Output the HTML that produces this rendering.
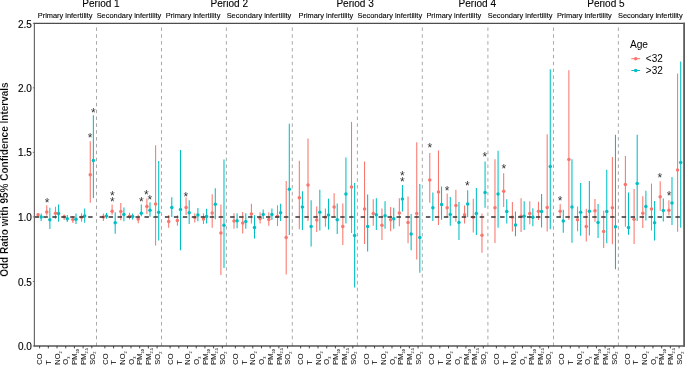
<!DOCTYPE html>
<html lang="en"><head><meta charset="utf-8"><title>Odd Ratio with 95% Confidence Intervals</title>
<style>html,body{margin:0;padding:0;background:#fff}body{width:685px;height:365px;overflow:hidden}svg{display:block}text{font-variant-ligatures:none;font-kerning:normal}</style></head>
<body>
<svg width="685" height="365" viewBox="0 0 685 365" font-family="'Liberation Sans', sans-serif">
<rect width="685" height="365" fill="#fff"/>
<line x1="96.5" y1="23.3" x2="96.5" y2="346.0" stroke="#8c8c8c" stroke-width="0.75" stroke-dasharray="3.5 3.35" stroke-dashoffset="2.7"/>
<line x1="161.5" y1="23.3" x2="161.5" y2="346.0" stroke="#8c8c8c" stroke-width="0.75" stroke-dasharray="3.5 3.35" stroke-dashoffset="2.7"/>
<line x1="226.4" y1="23.3" x2="226.4" y2="346.0" stroke="#8c8c8c" stroke-width="0.75" stroke-dasharray="3.5 3.35" stroke-dashoffset="2.7"/>
<line x1="292.3" y1="23.3" x2="292.3" y2="346.0" stroke="#8c8c8c" stroke-width="0.75" stroke-dasharray="3.5 3.35" stroke-dashoffset="2.7"/>
<line x1="357.4" y1="23.3" x2="357.4" y2="346.0" stroke="#8c8c8c" stroke-width="0.75" stroke-dasharray="3.5 3.35" stroke-dashoffset="2.7"/>
<line x1="422.3" y1="23.3" x2="422.3" y2="346.0" stroke="#8c8c8c" stroke-width="0.75" stroke-dasharray="3.5 3.35" stroke-dashoffset="2.7"/>
<line x1="487.9" y1="23.3" x2="487.9" y2="346.0" stroke="#8c8c8c" stroke-width="0.75" stroke-dasharray="3.5 3.35" stroke-dashoffset="2.7"/>
<line x1="553.5" y1="23.3" x2="553.5" y2="346.0" stroke="#8c8c8c" stroke-width="0.75" stroke-dasharray="3.5 3.35" stroke-dashoffset="2.7"/>
<line x1="618.4" y1="23.3" x2="618.4" y2="346.0" stroke="#8c8c8c" stroke-width="0.75" stroke-dasharray="3.5 3.35" stroke-dashoffset="2.7"/>
<line x1="38.07" y1="212.90" x2="38.07" y2="217.70" stroke="#F8766D" stroke-width="1.05"/>
<circle cx="38.07" cy="214.80" r="1.75" fill="#F8766D"/>
<line x1="41.17" y1="213.60" x2="41.17" y2="220.90" stroke="#00BFC4" stroke-width="1.05"/>
<circle cx="41.17" cy="217.00" r="1.75" fill="#00BFC4"/>
<line x1="46.77" y1="205.20" x2="46.77" y2="215.60" stroke="#F8766D" stroke-width="1.05"/>
<circle cx="46.77" cy="211.90" r="1.75" fill="#F8766D"/>
<line x1="49.87" y1="207.70" x2="49.87" y2="229.10" stroke="#00BFC4" stroke-width="1.05"/>
<circle cx="49.87" cy="219.70" r="1.75" fill="#00BFC4"/>
<line x1="55.47" y1="206.70" x2="55.47" y2="218.70" stroke="#F8766D" stroke-width="1.05"/>
<circle cx="55.47" cy="213.20" r="1.75" fill="#F8766D"/>
<line x1="58.57" y1="204.50" x2="58.57" y2="221.80" stroke="#00BFC4" stroke-width="1.05"/>
<circle cx="58.57" cy="213.40" r="1.75" fill="#00BFC4"/>
<line x1="64.17" y1="214.40" x2="64.17" y2="219.90" stroke="#F8766D" stroke-width="1.05"/>
<circle cx="64.17" cy="216.80" r="1.75" fill="#F8766D"/>
<line x1="67.27" y1="215.10" x2="67.27" y2="222.10" stroke="#00BFC4" stroke-width="1.05"/>
<circle cx="67.27" cy="218.70" r="1.75" fill="#00BFC4"/>
<line x1="72.87" y1="216.00" x2="72.87" y2="223.10" stroke="#F8766D" stroke-width="1.05"/>
<circle cx="72.87" cy="219.40" r="1.75" fill="#F8766D"/>
<line x1="75.97" y1="213.60" x2="75.97" y2="224.00" stroke="#00BFC4" stroke-width="1.05"/>
<circle cx="75.97" cy="219.20" r="1.75" fill="#00BFC4"/>
<line x1="81.57" y1="213.20" x2="81.57" y2="221.80" stroke="#F8766D" stroke-width="1.05"/>
<circle cx="81.57" cy="217.30" r="1.75" fill="#F8766D"/>
<line x1="84.67" y1="208.60" x2="84.67" y2="222.80" stroke="#00BFC4" stroke-width="1.05"/>
<circle cx="84.67" cy="215.90" r="1.75" fill="#00BFC4"/>
<line x1="90.27" y1="141.30" x2="90.27" y2="202.80" stroke="#F8766D" stroke-width="1.05"/>
<circle cx="90.27" cy="174.80" r="1.75" fill="#F8766D"/>
<line x1="93.37" y1="115.30" x2="93.37" y2="198.00" stroke="#00BFC4" stroke-width="1.05"/>
<circle cx="93.37" cy="160.50" r="1.75" fill="#00BFC4"/>
<line x1="103.40" y1="213.60" x2="103.40" y2="220.90" stroke="#F8766D" stroke-width="1.05"/>
<circle cx="103.40" cy="217.00" r="1.75" fill="#F8766D"/>
<line x1="106.50" y1="212.90" x2="106.50" y2="218.70" stroke="#00BFC4" stroke-width="1.05"/>
<circle cx="106.50" cy="215.90" r="1.75" fill="#00BFC4"/>
<line x1="112.10" y1="204.50" x2="112.10" y2="214.80" stroke="#F8766D" stroke-width="1.05"/>
<circle cx="112.10" cy="211.20" r="1.75" fill="#F8766D"/>
<line x1="115.20" y1="212.20" x2="115.20" y2="233.80" stroke="#00BFC4" stroke-width="1.05"/>
<circle cx="115.20" cy="222.80" r="1.75" fill="#00BFC4"/>
<line x1="120.80" y1="203.00" x2="120.80" y2="220.20" stroke="#F8766D" stroke-width="1.05"/>
<circle cx="120.80" cy="211.50" r="1.75" fill="#F8766D"/>
<line x1="123.90" y1="207.40" x2="123.90" y2="221.30" stroke="#00BFC4" stroke-width="1.05"/>
<circle cx="123.90" cy="214.40" r="1.75" fill="#00BFC4"/>
<line x1="129.50" y1="212.70" x2="129.50" y2="219.40" stroke="#F8766D" stroke-width="1.05"/>
<circle cx="129.50" cy="216.30" r="1.75" fill="#F8766D"/>
<line x1="132.60" y1="213.40" x2="132.60" y2="219.40" stroke="#00BFC4" stroke-width="1.05"/>
<circle cx="132.60" cy="216.50" r="1.75" fill="#00BFC4"/>
<line x1="138.20" y1="214.60" x2="138.20" y2="223.30" stroke="#F8766D" stroke-width="1.05"/>
<circle cx="138.20" cy="219.10" r="1.75" fill="#F8766D"/>
<line x1="141.30" y1="204.50" x2="141.30" y2="216.30" stroke="#00BFC4" stroke-width="1.05"/>
<circle cx="141.30" cy="213.20" r="1.75" fill="#00BFC4"/>
<line x1="146.90" y1="198.40" x2="146.90" y2="214.10" stroke="#F8766D" stroke-width="1.05"/>
<circle cx="146.90" cy="206.40" r="1.75" fill="#F8766D"/>
<line x1="150.00" y1="202.30" x2="150.00" y2="216.70" stroke="#00BFC4" stroke-width="1.05"/>
<circle cx="150.00" cy="210.30" r="1.75" fill="#00BFC4"/>
<line x1="155.60" y1="145.20" x2="155.60" y2="245.60" stroke="#F8766D" stroke-width="1.05"/>
<circle cx="155.60" cy="204.00" r="1.75" fill="#F8766D"/>
<line x1="158.70" y1="160.90" x2="158.70" y2="240.60" stroke="#00BFC4" stroke-width="1.05"/>
<circle cx="158.70" cy="212.20" r="1.75" fill="#00BFC4"/>
<line x1="168.69" y1="214.90" x2="168.69" y2="227.70" stroke="#F8766D" stroke-width="1.05"/>
<circle cx="168.69" cy="221.60" r="1.75" fill="#F8766D"/>
<line x1="171.79" y1="197.20" x2="171.79" y2="217.10" stroke="#00BFC4" stroke-width="1.05"/>
<circle cx="171.79" cy="207.40" r="1.75" fill="#00BFC4"/>
<line x1="177.39" y1="215.30" x2="177.39" y2="225.80" stroke="#F8766D" stroke-width="1.05"/>
<circle cx="177.39" cy="220.60" r="1.75" fill="#F8766D"/>
<line x1="180.49" y1="150.00" x2="180.49" y2="250.30" stroke="#00BFC4" stroke-width="1.05"/>
<circle cx="180.49" cy="209.60" r="1.75" fill="#00BFC4"/>
<line x1="186.09" y1="197.50" x2="186.09" y2="214.90" stroke="#F8766D" stroke-width="1.05"/>
<circle cx="186.09" cy="207.60" r="1.75" fill="#F8766D"/>
<line x1="189.19" y1="200.20" x2="189.19" y2="224.00" stroke="#00BFC4" stroke-width="1.05"/>
<circle cx="189.19" cy="212.70" r="1.75" fill="#00BFC4"/>
<line x1="194.79" y1="213.20" x2="194.79" y2="222.60" stroke="#F8766D" stroke-width="1.05"/>
<circle cx="194.79" cy="217.60" r="1.75" fill="#F8766D"/>
<line x1="197.89" y1="208.10" x2="197.89" y2="221.30" stroke="#00BFC4" stroke-width="1.05"/>
<circle cx="197.89" cy="214.90" r="1.75" fill="#00BFC4"/>
<line x1="203.49" y1="213.40" x2="203.49" y2="224.00" stroke="#F8766D" stroke-width="1.05"/>
<circle cx="203.49" cy="218.90" r="1.75" fill="#F8766D"/>
<line x1="206.59" y1="208.80" x2="206.59" y2="223.50" stroke="#00BFC4" stroke-width="1.05"/>
<circle cx="206.59" cy="216.50" r="1.75" fill="#00BFC4"/>
<line x1="212.19" y1="194.30" x2="212.19" y2="227.70" stroke="#F8766D" stroke-width="1.05"/>
<circle cx="212.19" cy="213.10" r="1.75" fill="#F8766D"/>
<line x1="215.29" y1="188.30" x2="215.29" y2="219.20" stroke="#00BFC4" stroke-width="1.05"/>
<circle cx="215.29" cy="204.30" r="1.75" fill="#00BFC4"/>
<line x1="220.89" y1="204.60" x2="220.89" y2="275.00" stroke="#F8766D" stroke-width="1.05"/>
<circle cx="220.89" cy="233.00" r="1.75" fill="#F8766D"/>
<line x1="223.99" y1="159.50" x2="223.99" y2="268.00" stroke="#00BFC4" stroke-width="1.05"/>
<circle cx="223.99" cy="225.30" r="1.75" fill="#00BFC4"/>
<line x1="234.00" y1="213.30" x2="234.00" y2="228.70" stroke="#F8766D" stroke-width="1.05"/>
<circle cx="234.00" cy="221.00" r="1.75" fill="#F8766D"/>
<line x1="237.10" y1="213.30" x2="237.10" y2="228.20" stroke="#00BFC4" stroke-width="1.05"/>
<circle cx="237.10" cy="220.80" r="1.75" fill="#00BFC4"/>
<line x1="242.70" y1="212.10" x2="242.70" y2="233.60" stroke="#F8766D" stroke-width="1.05"/>
<circle cx="242.70" cy="223.10" r="1.75" fill="#F8766D"/>
<line x1="245.80" y1="213.30" x2="245.80" y2="228.70" stroke="#00BFC4" stroke-width="1.05"/>
<circle cx="245.80" cy="221.50" r="1.75" fill="#00BFC4"/>
<line x1="251.40" y1="203.70" x2="251.40" y2="223.40" stroke="#F8766D" stroke-width="1.05"/>
<circle cx="251.40" cy="214.10" r="1.75" fill="#F8766D"/>
<line x1="254.50" y1="215.20" x2="254.50" y2="238.60" stroke="#00BFC4" stroke-width="1.05"/>
<circle cx="254.50" cy="227.60" r="1.75" fill="#00BFC4"/>
<line x1="260.10" y1="212.30" x2="260.10" y2="223.40" stroke="#F8766D" stroke-width="1.05"/>
<circle cx="260.10" cy="218.40" r="1.75" fill="#F8766D"/>
<line x1="263.20" y1="209.50" x2="263.20" y2="219.10" stroke="#00BFC4" stroke-width="1.05"/>
<circle cx="263.20" cy="214.60" r="1.75" fill="#00BFC4"/>
<line x1="268.80" y1="212.30" x2="268.80" y2="225.80" stroke="#F8766D" stroke-width="1.05"/>
<circle cx="268.80" cy="219.60" r="1.75" fill="#F8766D"/>
<line x1="271.90" y1="208.50" x2="271.90" y2="220.00" stroke="#00BFC4" stroke-width="1.05"/>
<circle cx="271.90" cy="214.60" r="1.75" fill="#00BFC4"/>
<line x1="277.50" y1="205.30" x2="277.50" y2="226.10" stroke="#F8766D" stroke-width="1.05"/>
<circle cx="277.50" cy="216.20" r="1.75" fill="#F8766D"/>
<line x1="280.60" y1="203.70" x2="280.60" y2="221.00" stroke="#00BFC4" stroke-width="1.05"/>
<circle cx="280.60" cy="212.80" r="1.75" fill="#00BFC4"/>
<line x1="286.20" y1="181.10" x2="286.20" y2="274.60" stroke="#F8766D" stroke-width="1.05"/>
<circle cx="286.20" cy="237.40" r="1.75" fill="#F8766D"/>
<line x1="289.30" y1="123.80" x2="289.30" y2="235.00" stroke="#00BFC4" stroke-width="1.05"/>
<circle cx="289.30" cy="189.20" r="1.75" fill="#00BFC4"/>
<line x1="299.32" y1="160.80" x2="299.32" y2="229.30" stroke="#F8766D" stroke-width="1.05"/>
<circle cx="299.32" cy="197.80" r="1.75" fill="#F8766D"/>
<line x1="302.42" y1="191.30" x2="302.42" y2="230.00" stroke="#00BFC4" stroke-width="1.05"/>
<circle cx="302.42" cy="206.90" r="1.75" fill="#00BFC4"/>
<line x1="308.02" y1="138.40" x2="308.02" y2="221.10" stroke="#F8766D" stroke-width="1.05"/>
<circle cx="308.02" cy="185.00" r="1.75" fill="#F8766D"/>
<line x1="311.12" y1="200.20" x2="311.12" y2="246.50" stroke="#00BFC4" stroke-width="1.05"/>
<circle cx="311.12" cy="226.40" r="1.75" fill="#00BFC4"/>
<line x1="316.72" y1="206.50" x2="316.72" y2="231.90" stroke="#F8766D" stroke-width="1.05"/>
<circle cx="316.72" cy="220.10" r="1.75" fill="#F8766D"/>
<line x1="319.82" y1="189.80" x2="319.82" y2="230.60" stroke="#00BFC4" stroke-width="1.05"/>
<circle cx="319.82" cy="212.20" r="1.75" fill="#00BFC4"/>
<line x1="325.42" y1="208.40" x2="325.42" y2="226.80" stroke="#F8766D" stroke-width="1.05"/>
<circle cx="325.42" cy="217.30" r="1.75" fill="#F8766D"/>
<line x1="328.52" y1="198.70" x2="328.52" y2="229.60" stroke="#00BFC4" stroke-width="1.05"/>
<circle cx="328.52" cy="215.00" r="1.75" fill="#00BFC4"/>
<line x1="334.12" y1="193.20" x2="334.12" y2="217.30" stroke="#F8766D" stroke-width="1.05"/>
<circle cx="334.12" cy="206.90" r="1.75" fill="#F8766D"/>
<line x1="337.22" y1="203.40" x2="337.22" y2="234.00" stroke="#00BFC4" stroke-width="1.05"/>
<circle cx="337.22" cy="219.80" r="1.75" fill="#00BFC4"/>
<line x1="342.82" y1="203.40" x2="342.82" y2="245.00" stroke="#F8766D" stroke-width="1.05"/>
<circle cx="342.82" cy="226.40" r="1.75" fill="#F8766D"/>
<line x1="345.92" y1="157.40" x2="345.92" y2="223.60" stroke="#00BFC4" stroke-width="1.05"/>
<circle cx="345.92" cy="194.00" r="1.75" fill="#00BFC4"/>
<line x1="351.52" y1="121.90" x2="351.52" y2="233.00" stroke="#F8766D" stroke-width="1.05"/>
<circle cx="351.52" cy="186.90" r="1.75" fill="#F8766D"/>
<line x1="354.62" y1="183.00" x2="354.62" y2="287.50" stroke="#00BFC4" stroke-width="1.05"/>
<circle cx="354.62" cy="235.50" r="1.75" fill="#00BFC4"/>
<line x1="364.54" y1="161.40" x2="364.54" y2="243.90" stroke="#F8766D" stroke-width="1.05"/>
<circle cx="364.54" cy="209.10" r="1.75" fill="#F8766D"/>
<line x1="367.64" y1="194.50" x2="367.64" y2="251.50" stroke="#00BFC4" stroke-width="1.05"/>
<circle cx="367.64" cy="226.40" r="1.75" fill="#00BFC4"/>
<line x1="373.24" y1="199.30" x2="373.24" y2="225.80" stroke="#F8766D" stroke-width="1.05"/>
<circle cx="373.24" cy="213.50" r="1.75" fill="#F8766D"/>
<line x1="376.34" y1="198.30" x2="376.34" y2="230.00" stroke="#00BFC4" stroke-width="1.05"/>
<circle cx="376.34" cy="214.80" r="1.75" fill="#00BFC4"/>
<line x1="381.94" y1="208.40" x2="381.94" y2="240.00" stroke="#F8766D" stroke-width="1.05"/>
<circle cx="381.94" cy="225.30" r="1.75" fill="#F8766D"/>
<line x1="385.04" y1="201.20" x2="385.04" y2="228.70" stroke="#00BFC4" stroke-width="1.05"/>
<circle cx="385.04" cy="215.80" r="1.75" fill="#00BFC4"/>
<line x1="390.64" y1="206.90" x2="390.64" y2="231.20" stroke="#F8766D" stroke-width="1.05"/>
<circle cx="390.64" cy="219.80" r="1.75" fill="#F8766D"/>
<line x1="393.74" y1="207.80" x2="393.74" y2="228.70" stroke="#00BFC4" stroke-width="1.05"/>
<circle cx="393.74" cy="218.80" r="1.75" fill="#00BFC4"/>
<line x1="399.34" y1="198.30" x2="399.34" y2="226.20" stroke="#F8766D" stroke-width="1.05"/>
<circle cx="399.34" cy="213.10" r="1.75" fill="#F8766D"/>
<line x1="402.44" y1="185.00" x2="402.44" y2="211.60" stroke="#00BFC4" stroke-width="1.05"/>
<circle cx="402.44" cy="198.90" r="1.75" fill="#00BFC4"/>
<line x1="408.04" y1="196.40" x2="408.04" y2="243.30" stroke="#F8766D" stroke-width="1.05"/>
<circle cx="408.04" cy="222.40" r="1.75" fill="#F8766D"/>
<line x1="411.14" y1="214.10" x2="411.14" y2="250.30" stroke="#00BFC4" stroke-width="1.05"/>
<circle cx="411.14" cy="233.90" r="1.75" fill="#00BFC4"/>
<line x1="416.74" y1="142.20" x2="416.74" y2="259.50" stroke="#F8766D" stroke-width="1.05"/>
<circle cx="416.74" cy="213.50" r="1.75" fill="#F8766D"/>
<line x1="419.84" y1="184.10" x2="419.84" y2="272.70" stroke="#00BFC4" stroke-width="1.05"/>
<circle cx="419.84" cy="237.40" r="1.75" fill="#00BFC4"/>
<line x1="429.77" y1="152.90" x2="429.77" y2="202.70" stroke="#F8766D" stroke-width="1.05"/>
<circle cx="429.77" cy="180.00" r="1.75" fill="#F8766D"/>
<line x1="432.87" y1="192.60" x2="432.87" y2="221.10" stroke="#00BFC4" stroke-width="1.05"/>
<circle cx="432.87" cy="207.80" r="1.75" fill="#00BFC4"/>
<line x1="438.47" y1="150.40" x2="438.47" y2="224.90" stroke="#F8766D" stroke-width="1.05"/>
<circle cx="438.47" cy="192.10" r="1.75" fill="#F8766D"/>
<line x1="441.57" y1="186.40" x2="441.57" y2="219.80" stroke="#00BFC4" stroke-width="1.05"/>
<circle cx="441.57" cy="204.40" r="1.75" fill="#00BFC4"/>
<line x1="447.17" y1="193.60" x2="447.17" y2="217.30" stroke="#F8766D" stroke-width="1.05"/>
<circle cx="447.17" cy="207.80" r="1.75" fill="#F8766D"/>
<line x1="450.27" y1="197.00" x2="450.27" y2="225.80" stroke="#00BFC4" stroke-width="1.05"/>
<circle cx="450.27" cy="214.50" r="1.75" fill="#00BFC4"/>
<line x1="455.87" y1="189.80" x2="455.87" y2="221.70" stroke="#F8766D" stroke-width="1.05"/>
<circle cx="455.87" cy="205.50" r="1.75" fill="#F8766D"/>
<line x1="458.97" y1="202.10" x2="458.97" y2="240.10" stroke="#00BFC4" stroke-width="1.05"/>
<circle cx="458.97" cy="222.60" r="1.75" fill="#00BFC4"/>
<line x1="464.57" y1="205.50" x2="464.57" y2="223.60" stroke="#F8766D" stroke-width="1.05"/>
<circle cx="464.57" cy="214.80" r="1.75" fill="#F8766D"/>
<line x1="467.67" y1="190.20" x2="467.67" y2="217.30" stroke="#00BFC4" stroke-width="1.05"/>
<circle cx="467.67" cy="204.00" r="1.75" fill="#00BFC4"/>
<line x1="473.27" y1="198.70" x2="473.27" y2="232.50" stroke="#F8766D" stroke-width="1.05"/>
<circle cx="473.27" cy="217.30" r="1.75" fill="#F8766D"/>
<line x1="476.37" y1="187.90" x2="476.37" y2="235.10" stroke="#00BFC4" stroke-width="1.05"/>
<circle cx="476.37" cy="213.50" r="1.75" fill="#00BFC4"/>
<line x1="481.97" y1="213.50" x2="481.97" y2="252.80" stroke="#F8766D" stroke-width="1.05"/>
<circle cx="481.97" cy="235.30" r="1.75" fill="#F8766D"/>
<line x1="485.07" y1="161.40" x2="485.07" y2="207.80" stroke="#00BFC4" stroke-width="1.05"/>
<circle cx="485.07" cy="192.60" r="1.75" fill="#00BFC4"/>
<line x1="494.97" y1="159.30" x2="494.97" y2="243.10" stroke="#F8766D" stroke-width="1.05"/>
<circle cx="494.97" cy="207.80" r="1.75" fill="#F8766D"/>
<line x1="498.07" y1="150.80" x2="498.07" y2="227.70" stroke="#00BFC4" stroke-width="1.05"/>
<circle cx="498.07" cy="194.00" r="1.75" fill="#00BFC4"/>
<line x1="503.67" y1="173.20" x2="503.67" y2="206.90" stroke="#F8766D" stroke-width="1.05"/>
<circle cx="503.67" cy="191.30" r="1.75" fill="#F8766D"/>
<line x1="506.77" y1="199.30" x2="506.77" y2="223.60" stroke="#00BFC4" stroke-width="1.05"/>
<circle cx="506.77" cy="211.60" r="1.75" fill="#00BFC4"/>
<line x1="512.37" y1="202.10" x2="512.37" y2="231.50" stroke="#F8766D" stroke-width="1.05"/>
<circle cx="512.37" cy="217.30" r="1.75" fill="#F8766D"/>
<line x1="515.47" y1="211.60" x2="515.47" y2="236.20" stroke="#00BFC4" stroke-width="1.05"/>
<circle cx="515.47" cy="224.90" r="1.75" fill="#00BFC4"/>
<line x1="521.07" y1="198.30" x2="521.07" y2="231.90" stroke="#F8766D" stroke-width="1.05"/>
<circle cx="521.07" cy="216.30" r="1.75" fill="#F8766D"/>
<line x1="524.17" y1="201.20" x2="524.17" y2="230.00" stroke="#00BFC4" stroke-width="1.05"/>
<circle cx="524.17" cy="216.30" r="1.75" fill="#00BFC4"/>
<line x1="529.77" y1="201.20" x2="529.77" y2="224.30" stroke="#F8766D" stroke-width="1.05"/>
<circle cx="529.77" cy="213.50" r="1.75" fill="#F8766D"/>
<line x1="532.87" y1="208.20" x2="532.87" y2="226.20" stroke="#00BFC4" stroke-width="1.05"/>
<circle cx="532.87" cy="217.30" r="1.75" fill="#00BFC4"/>
<line x1="538.47" y1="201.70" x2="538.47" y2="220.10" stroke="#F8766D" stroke-width="1.05"/>
<circle cx="538.47" cy="211.20" r="1.75" fill="#F8766D"/>
<line x1="541.57" y1="194.00" x2="541.57" y2="227.40" stroke="#00BFC4" stroke-width="1.05"/>
<circle cx="541.57" cy="211.60" r="1.75" fill="#00BFC4"/>
<line x1="547.17" y1="134.30" x2="547.17" y2="231.50" stroke="#F8766D" stroke-width="1.05"/>
<circle cx="547.17" cy="207.40" r="1.75" fill="#F8766D"/>
<line x1="550.27" y1="69.20" x2="550.27" y2="229.30" stroke="#00BFC4" stroke-width="1.05"/>
<circle cx="550.27" cy="166.50" r="1.75" fill="#00BFC4"/>
<line x1="560.17" y1="204.00" x2="560.17" y2="217.30" stroke="#F8766D" stroke-width="1.05"/>
<circle cx="560.17" cy="211.20" r="1.75" fill="#F8766D"/>
<line x1="563.27" y1="209.70" x2="563.27" y2="232.70" stroke="#00BFC4" stroke-width="1.05"/>
<circle cx="563.27" cy="221.10" r="1.75" fill="#00BFC4"/>
<line x1="568.87" y1="70.30" x2="568.87" y2="219.80" stroke="#F8766D" stroke-width="1.05"/>
<circle cx="568.87" cy="159.50" r="1.75" fill="#F8766D"/>
<line x1="571.97" y1="159.30" x2="571.97" y2="242.80" stroke="#00BFC4" stroke-width="1.05"/>
<circle cx="571.97" cy="206.90" r="1.75" fill="#00BFC4"/>
<line x1="577.57" y1="206.50" x2="577.57" y2="231.30" stroke="#F8766D" stroke-width="1.05"/>
<circle cx="577.57" cy="219.80" r="1.75" fill="#F8766D"/>
<line x1="580.67" y1="182.90" x2="580.67" y2="235.70" stroke="#00BFC4" stroke-width="1.05"/>
<circle cx="580.67" cy="212.20" r="1.75" fill="#00BFC4"/>
<line x1="586.27" y1="208.80" x2="586.27" y2="241.40" stroke="#F8766D" stroke-width="1.05"/>
<circle cx="586.27" cy="226.40" r="1.75" fill="#F8766D"/>
<line x1="589.37" y1="181.00" x2="589.37" y2="235.50" stroke="#00BFC4" stroke-width="1.05"/>
<circle cx="589.37" cy="211.20" r="1.75" fill="#00BFC4"/>
<line x1="594.97" y1="198.90" x2="594.97" y2="221.70" stroke="#F8766D" stroke-width="1.05"/>
<circle cx="594.97" cy="210.70" r="1.75" fill="#F8766D"/>
<line x1="598.07" y1="204.00" x2="598.07" y2="238.10" stroke="#00BFC4" stroke-width="1.05"/>
<circle cx="598.07" cy="222.40" r="1.75" fill="#00BFC4"/>
<line x1="603.67" y1="210.70" x2="603.67" y2="248.00" stroke="#F8766D" stroke-width="1.05"/>
<circle cx="603.67" cy="231.40" r="1.75" fill="#F8766D"/>
<line x1="606.77" y1="169.80" x2="606.77" y2="243.30" stroke="#00BFC4" stroke-width="1.05"/>
<circle cx="606.77" cy="211.60" r="1.75" fill="#00BFC4"/>
<line x1="612.37" y1="157.00" x2="612.37" y2="244.30" stroke="#F8766D" stroke-width="1.05"/>
<circle cx="612.37" cy="207.80" r="1.75" fill="#F8766D"/>
<line x1="615.47" y1="134.70" x2="615.47" y2="269.30" stroke="#00BFC4" stroke-width="1.05"/>
<circle cx="615.47" cy="226.80" r="1.75" fill="#00BFC4"/>
<line x1="625.39" y1="156.10" x2="625.39" y2="226.70" stroke="#F8766D" stroke-width="1.05"/>
<circle cx="625.39" cy="184.60" r="1.75" fill="#F8766D"/>
<line x1="628.49" y1="192.50" x2="628.49" y2="234.80" stroke="#00BFC4" stroke-width="1.05"/>
<circle cx="628.49" cy="227.60" r="1.75" fill="#00BFC4"/>
<line x1="634.09" y1="189.10" x2="634.09" y2="243.90" stroke="#F8766D" stroke-width="1.05"/>
<circle cx="634.09" cy="219.30" r="1.75" fill="#F8766D"/>
<line x1="637.19" y1="134.70" x2="637.19" y2="220.90" stroke="#00BFC4" stroke-width="1.05"/>
<circle cx="637.19" cy="183.60" r="1.75" fill="#00BFC4"/>
<line x1="642.79" y1="196.30" x2="642.79" y2="228.00" stroke="#F8766D" stroke-width="1.05"/>
<circle cx="642.79" cy="213.30" r="1.75" fill="#F8766D"/>
<line x1="645.89" y1="190.80" x2="645.89" y2="220.40" stroke="#00BFC4" stroke-width="1.05"/>
<circle cx="645.89" cy="206.60" r="1.75" fill="#00BFC4"/>
<line x1="651.49" y1="183.60" x2="651.49" y2="230.60" stroke="#F8766D" stroke-width="1.05"/>
<circle cx="651.49" cy="209.10" r="1.75" fill="#F8766D"/>
<line x1="654.59" y1="201.10" x2="654.59" y2="240.60" stroke="#00BFC4" stroke-width="1.05"/>
<circle cx="654.59" cy="222.70" r="1.75" fill="#00BFC4"/>
<line x1="660.19" y1="181.30" x2="660.19" y2="210.70" stroke="#F8766D" stroke-width="1.05"/>
<circle cx="660.19" cy="196.80" r="1.75" fill="#F8766D"/>
<line x1="663.29" y1="198.50" x2="663.29" y2="221.60" stroke="#00BFC4" stroke-width="1.05"/>
<circle cx="663.29" cy="210.50" r="1.75" fill="#00BFC4"/>
<line x1="668.89" y1="200.30" x2="668.89" y2="215.20" stroke="#F8766D" stroke-width="1.05"/>
<circle cx="668.89" cy="210.20" r="1.75" fill="#F8766D"/>
<line x1="671.99" y1="177.10" x2="671.99" y2="224.90" stroke="#00BFC4" stroke-width="1.05"/>
<circle cx="671.99" cy="202.90" r="1.75" fill="#00BFC4"/>
<line x1="677.59" y1="73.60" x2="677.59" y2="231.80" stroke="#F8766D" stroke-width="1.05"/>
<circle cx="677.59" cy="169.90" r="1.75" fill="#F8766D"/>
<line x1="680.69" y1="61.50" x2="680.69" y2="227.80" stroke="#00BFC4" stroke-width="1.05"/>
<circle cx="680.69" cy="162.40" r="1.75" fill="#00BFC4"/>
<line x1="34.40" y1="217.1" x2="97.04" y2="217.1" stroke="#333" stroke-width="1.5" stroke-dasharray="4.48 4.48"/>
<line x1="99.65" y1="217.1" x2="162.29" y2="217.1" stroke="#333" stroke-width="1.5" stroke-dasharray="4.48 4.48"/>
<line x1="164.90" y1="217.1" x2="227.54" y2="217.1" stroke="#333" stroke-width="1.5" stroke-dasharray="4.48 4.48"/>
<line x1="230.15" y1="217.1" x2="292.79" y2="217.1" stroke="#333" stroke-width="1.5" stroke-dasharray="4.48 4.48"/>
<line x1="295.40" y1="217.1" x2="358.04" y2="217.1" stroke="#333" stroke-width="1.5" stroke-dasharray="4.48 4.48"/>
<line x1="360.65" y1="217.1" x2="423.29" y2="217.1" stroke="#333" stroke-width="1.5" stroke-dasharray="4.48 4.48"/>
<line x1="425.90" y1="217.1" x2="488.54" y2="217.1" stroke="#333" stroke-width="1.5" stroke-dasharray="4.48 4.48"/>
<line x1="491.15" y1="217.1" x2="553.79" y2="217.1" stroke="#333" stroke-width="1.5" stroke-dasharray="4.48 4.48"/>
<line x1="556.40" y1="217.1" x2="619.04" y2="217.1" stroke="#333" stroke-width="1.5" stroke-dasharray="4.48 4.48"/>
<line x1="621.65" y1="217.1" x2="684.10" y2="217.1" stroke="#333" stroke-width="1.5" stroke-dasharray="4.48 4.48"/>
<line x1="34.4" y1="23.3" x2="34.4" y2="346.0" stroke="#6a6a6a" stroke-width="1.2"/>
<line x1="33.8" y1="23.3" x2="685" y2="23.3" stroke="#4d4d4d" stroke-width="1.25"/>
<line x1="33.8" y1="346.1" x2="685" y2="346.1" stroke="#555" stroke-width="1.5"/>
<rect x="683.2" y="22.75" width="1.8" height="323.8" fill="#5c5c5c"/>
<line x1="32.8" y1="346.00" x2="34.4" y2="346.00" stroke="#4d4d4d" stroke-width="0.7"/>
<text x="31.9" y="350" font-size="10" text-anchor="end" fill="#000" stroke="#000" stroke-width="0.12">0.0</text>
<line x1="32.8" y1="281.46" x2="34.4" y2="281.46" stroke="#4d4d4d" stroke-width="0.7"/>
<text x="31.9" y="286" font-size="10" text-anchor="end" fill="#000" stroke="#000" stroke-width="0.12">0.5</text>
<line x1="32.8" y1="216.92" x2="34.4" y2="216.92" stroke="#4d4d4d" stroke-width="0.7"/>
<text x="31.9" y="221" font-size="10" text-anchor="end" fill="#000" stroke="#000" stroke-width="0.12">1.0</text>
<line x1="32.8" y1="152.38" x2="34.4" y2="152.38" stroke="#4d4d4d" stroke-width="0.7"/>
<text x="31.9" y="156" font-size="10" text-anchor="end" fill="#000" stroke="#000" stroke-width="0.12">1.5</text>
<line x1="32.8" y1="87.84" x2="34.4" y2="87.84" stroke="#4d4d4d" stroke-width="0.7"/>
<text x="31.9" y="92" font-size="10" text-anchor="end" fill="#000" stroke="#000" stroke-width="0.12">2.0</text>
<line x1="32.8" y1="23.30" x2="34.4" y2="23.30" stroke="#4d4d4d" stroke-width="0.7"/>
<text x="31.9" y="28" font-size="10" text-anchor="end" fill="#000" stroke="#000" stroke-width="0.12">2.5</text>
<line x1="39.62" y1="346.0" x2="39.62" y2="348.4" stroke="#333" stroke-width="0.9"/>
<text transform="translate(42.32 364.7) rotate(-90)" font-size="7.5" fill="#111" stroke="#111" stroke-width="0.05">CO</text>
<line x1="48.32" y1="346.0" x2="48.32" y2="348.4" stroke="#333" stroke-width="0.9"/>
<text transform="translate(51.02 364.7) rotate(-90)" font-size="7.5" fill="#111" stroke="#111" stroke-width="0.05">T</text>
<line x1="57.02" y1="346.0" x2="57.02" y2="348.4" stroke="#333" stroke-width="0.9"/>
<text transform="translate(59.72 364.7) rotate(-90)" font-size="7.5" fill="#111" stroke="#111" stroke-width="0.05">NO<tspan font-size="3.8" dy="1.9">2</tspan></text>
<line x1="65.72" y1="346.0" x2="65.72" y2="348.4" stroke="#333" stroke-width="0.9"/>
<text transform="translate(68.42 364.7) rotate(-90)" font-size="7.5" fill="#111" stroke="#111" stroke-width="0.05">O<tspan font-size="3.8" dy="1.9">3</tspan></text>
<line x1="74.42" y1="346.0" x2="74.42" y2="348.4" stroke="#333" stroke-width="0.9"/>
<text transform="translate(77.12 364.7) rotate(-90)" font-size="7.5" fill="#111" stroke="#111" stroke-width="0.05">PM<tspan font-size="3.8" dy="1.9">10</tspan></text>
<line x1="83.12" y1="346.0" x2="83.12" y2="348.4" stroke="#333" stroke-width="0.9"/>
<text transform="translate(85.82 364.7) rotate(-90)" font-size="7.5" fill="#111" stroke="#111" stroke-width="0.05">PM<tspan font-size="3.8" dy="1.9">2.5</tspan></text>
<line x1="91.82" y1="346.0" x2="91.82" y2="348.4" stroke="#333" stroke-width="0.9"/>
<text transform="translate(94.52 364.7) rotate(-90)" font-size="7.5" fill="#111" stroke="#111" stroke-width="0.05">SO<tspan font-size="3.8" dy="1.9">2</tspan></text>
<line x1="104.87" y1="346.0" x2="104.87" y2="348.4" stroke="#333" stroke-width="0.9"/>
<text transform="translate(107.57 364.7) rotate(-90)" font-size="7.5" fill="#111" stroke="#111" stroke-width="0.05">CO</text>
<line x1="113.57" y1="346.0" x2="113.57" y2="348.4" stroke="#333" stroke-width="0.9"/>
<text transform="translate(116.27 364.7) rotate(-90)" font-size="7.5" fill="#111" stroke="#111" stroke-width="0.05">T</text>
<line x1="122.27" y1="346.0" x2="122.27" y2="348.4" stroke="#333" stroke-width="0.9"/>
<text transform="translate(124.97 364.7) rotate(-90)" font-size="7.5" fill="#111" stroke="#111" stroke-width="0.05">NO<tspan font-size="3.8" dy="1.9">2</tspan></text>
<line x1="130.97" y1="346.0" x2="130.97" y2="348.4" stroke="#333" stroke-width="0.9"/>
<text transform="translate(133.67 364.7) rotate(-90)" font-size="7.5" fill="#111" stroke="#111" stroke-width="0.05">O<tspan font-size="3.8" dy="1.9">3</tspan></text>
<line x1="139.67" y1="346.0" x2="139.67" y2="348.4" stroke="#333" stroke-width="0.9"/>
<text transform="translate(142.37 364.7) rotate(-90)" font-size="7.5" fill="#111" stroke="#111" stroke-width="0.05">PM<tspan font-size="3.8" dy="1.9">10</tspan></text>
<line x1="148.37" y1="346.0" x2="148.37" y2="348.4" stroke="#333" stroke-width="0.9"/>
<text transform="translate(151.07 364.7) rotate(-90)" font-size="7.5" fill="#111" stroke="#111" stroke-width="0.05">PM<tspan font-size="3.8" dy="1.9">2.5</tspan></text>
<line x1="157.07" y1="346.0" x2="157.07" y2="348.4" stroke="#333" stroke-width="0.9"/>
<text transform="translate(159.77 364.7) rotate(-90)" font-size="7.5" fill="#111" stroke="#111" stroke-width="0.05">SO<tspan font-size="3.8" dy="1.9">2</tspan></text>
<line x1="170.12" y1="346.0" x2="170.12" y2="348.4" stroke="#333" stroke-width="0.9"/>
<text transform="translate(172.82 364.7) rotate(-90)" font-size="7.5" fill="#111" stroke="#111" stroke-width="0.05">CO</text>
<line x1="178.82" y1="346.0" x2="178.82" y2="348.4" stroke="#333" stroke-width="0.9"/>
<text transform="translate(181.52 364.7) rotate(-90)" font-size="7.5" fill="#111" stroke="#111" stroke-width="0.05">T</text>
<line x1="187.52" y1="346.0" x2="187.52" y2="348.4" stroke="#333" stroke-width="0.9"/>
<text transform="translate(190.22 364.7) rotate(-90)" font-size="7.5" fill="#111" stroke="#111" stroke-width="0.05">NO<tspan font-size="3.8" dy="1.9">2</tspan></text>
<line x1="196.22" y1="346.0" x2="196.22" y2="348.4" stroke="#333" stroke-width="0.9"/>
<text transform="translate(198.92 364.7) rotate(-90)" font-size="7.5" fill="#111" stroke="#111" stroke-width="0.05">O<tspan font-size="3.8" dy="1.9">3</tspan></text>
<line x1="204.92" y1="346.0" x2="204.92" y2="348.4" stroke="#333" stroke-width="0.9"/>
<text transform="translate(207.62 364.7) rotate(-90)" font-size="7.5" fill="#111" stroke="#111" stroke-width="0.05">PM<tspan font-size="3.8" dy="1.9">10</tspan></text>
<line x1="213.62" y1="346.0" x2="213.62" y2="348.4" stroke="#333" stroke-width="0.9"/>
<text transform="translate(216.32 364.7) rotate(-90)" font-size="7.5" fill="#111" stroke="#111" stroke-width="0.05">PM<tspan font-size="3.8" dy="1.9">2.5</tspan></text>
<line x1="222.32" y1="346.0" x2="222.32" y2="348.4" stroke="#333" stroke-width="0.9"/>
<text transform="translate(225.02 364.7) rotate(-90)" font-size="7.5" fill="#111" stroke="#111" stroke-width="0.05">SO<tspan font-size="3.8" dy="1.9">2</tspan></text>
<line x1="235.37" y1="346.0" x2="235.37" y2="348.4" stroke="#333" stroke-width="0.9"/>
<text transform="translate(238.07 364.7) rotate(-90)" font-size="7.5" fill="#111" stroke="#111" stroke-width="0.05">CO</text>
<line x1="244.07" y1="346.0" x2="244.07" y2="348.4" stroke="#333" stroke-width="0.9"/>
<text transform="translate(246.77 364.7) rotate(-90)" font-size="7.5" fill="#111" stroke="#111" stroke-width="0.05">T</text>
<line x1="252.77" y1="346.0" x2="252.77" y2="348.4" stroke="#333" stroke-width="0.9"/>
<text transform="translate(255.47 364.7) rotate(-90)" font-size="7.5" fill="#111" stroke="#111" stroke-width="0.05">NO<tspan font-size="3.8" dy="1.9">2</tspan></text>
<line x1="261.47" y1="346.0" x2="261.47" y2="348.4" stroke="#333" stroke-width="0.9"/>
<text transform="translate(264.17 364.7) rotate(-90)" font-size="7.5" fill="#111" stroke="#111" stroke-width="0.05">O<tspan font-size="3.8" dy="1.9">3</tspan></text>
<line x1="270.17" y1="346.0" x2="270.17" y2="348.4" stroke="#333" stroke-width="0.9"/>
<text transform="translate(272.87 364.7) rotate(-90)" font-size="7.5" fill="#111" stroke="#111" stroke-width="0.05">PM<tspan font-size="3.8" dy="1.9">10</tspan></text>
<line x1="278.87" y1="346.0" x2="278.87" y2="348.4" stroke="#333" stroke-width="0.9"/>
<text transform="translate(281.57 364.7) rotate(-90)" font-size="7.5" fill="#111" stroke="#111" stroke-width="0.05">PM<tspan font-size="3.8" dy="1.9">2.5</tspan></text>
<line x1="287.57" y1="346.0" x2="287.57" y2="348.4" stroke="#333" stroke-width="0.9"/>
<text transform="translate(290.27 364.7) rotate(-90)" font-size="7.5" fill="#111" stroke="#111" stroke-width="0.05">SO<tspan font-size="3.8" dy="1.9">2</tspan></text>
<line x1="300.62" y1="346.0" x2="300.62" y2="348.4" stroke="#333" stroke-width="0.9"/>
<text transform="translate(303.32 364.7) rotate(-90)" font-size="7.5" fill="#111" stroke="#111" stroke-width="0.05">CO</text>
<line x1="309.32" y1="346.0" x2="309.32" y2="348.4" stroke="#333" stroke-width="0.9"/>
<text transform="translate(312.02 364.7) rotate(-90)" font-size="7.5" fill="#111" stroke="#111" stroke-width="0.05">T</text>
<line x1="318.02" y1="346.0" x2="318.02" y2="348.4" stroke="#333" stroke-width="0.9"/>
<text transform="translate(320.72 364.7) rotate(-90)" font-size="7.5" fill="#111" stroke="#111" stroke-width="0.05">NO<tspan font-size="3.8" dy="1.9">2</tspan></text>
<line x1="326.72" y1="346.0" x2="326.72" y2="348.4" stroke="#333" stroke-width="0.9"/>
<text transform="translate(329.42 364.7) rotate(-90)" font-size="7.5" fill="#111" stroke="#111" stroke-width="0.05">O<tspan font-size="3.8" dy="1.9">3</tspan></text>
<line x1="335.42" y1="346.0" x2="335.42" y2="348.4" stroke="#333" stroke-width="0.9"/>
<text transform="translate(338.12 364.7) rotate(-90)" font-size="7.5" fill="#111" stroke="#111" stroke-width="0.05">PM<tspan font-size="3.8" dy="1.9">10</tspan></text>
<line x1="344.12" y1="346.0" x2="344.12" y2="348.4" stroke="#333" stroke-width="0.9"/>
<text transform="translate(346.82 364.7) rotate(-90)" font-size="7.5" fill="#111" stroke="#111" stroke-width="0.05">PM<tspan font-size="3.8" dy="1.9">2.5</tspan></text>
<line x1="352.82" y1="346.0" x2="352.82" y2="348.4" stroke="#333" stroke-width="0.9"/>
<text transform="translate(355.52 364.7) rotate(-90)" font-size="7.5" fill="#111" stroke="#111" stroke-width="0.05">SO<tspan font-size="3.8" dy="1.9">2</tspan></text>
<line x1="365.87" y1="346.0" x2="365.87" y2="348.4" stroke="#333" stroke-width="0.9"/>
<text transform="translate(368.57 364.7) rotate(-90)" font-size="7.5" fill="#111" stroke="#111" stroke-width="0.05">CO</text>
<line x1="374.57" y1="346.0" x2="374.57" y2="348.4" stroke="#333" stroke-width="0.9"/>
<text transform="translate(377.27 364.7) rotate(-90)" font-size="7.5" fill="#111" stroke="#111" stroke-width="0.05">T</text>
<line x1="383.27" y1="346.0" x2="383.27" y2="348.4" stroke="#333" stroke-width="0.9"/>
<text transform="translate(385.97 364.7) rotate(-90)" font-size="7.5" fill="#111" stroke="#111" stroke-width="0.05">NO<tspan font-size="3.8" dy="1.9">2</tspan></text>
<line x1="391.97" y1="346.0" x2="391.97" y2="348.4" stroke="#333" stroke-width="0.9"/>
<text transform="translate(394.67 364.7) rotate(-90)" font-size="7.5" fill="#111" stroke="#111" stroke-width="0.05">O<tspan font-size="3.8" dy="1.9">3</tspan></text>
<line x1="400.67" y1="346.0" x2="400.67" y2="348.4" stroke="#333" stroke-width="0.9"/>
<text transform="translate(403.37 364.7) rotate(-90)" font-size="7.5" fill="#111" stroke="#111" stroke-width="0.05">PM<tspan font-size="3.8" dy="1.9">10</tspan></text>
<line x1="409.37" y1="346.0" x2="409.37" y2="348.4" stroke="#333" stroke-width="0.9"/>
<text transform="translate(412.07 364.7) rotate(-90)" font-size="7.5" fill="#111" stroke="#111" stroke-width="0.05">PM<tspan font-size="3.8" dy="1.9">2.5</tspan></text>
<line x1="418.07" y1="346.0" x2="418.07" y2="348.4" stroke="#333" stroke-width="0.9"/>
<text transform="translate(420.77 364.7) rotate(-90)" font-size="7.5" fill="#111" stroke="#111" stroke-width="0.05">SO<tspan font-size="3.8" dy="1.9">2</tspan></text>
<line x1="431.12" y1="346.0" x2="431.12" y2="348.4" stroke="#333" stroke-width="0.9"/>
<text transform="translate(433.82 364.7) rotate(-90)" font-size="7.5" fill="#111" stroke="#111" stroke-width="0.05">CO</text>
<line x1="439.82" y1="346.0" x2="439.82" y2="348.4" stroke="#333" stroke-width="0.9"/>
<text transform="translate(442.52 364.7) rotate(-90)" font-size="7.5" fill="#111" stroke="#111" stroke-width="0.05">T</text>
<line x1="448.52" y1="346.0" x2="448.52" y2="348.4" stroke="#333" stroke-width="0.9"/>
<text transform="translate(451.22 364.7) rotate(-90)" font-size="7.5" fill="#111" stroke="#111" stroke-width="0.05">NO<tspan font-size="3.8" dy="1.9">2</tspan></text>
<line x1="457.22" y1="346.0" x2="457.22" y2="348.4" stroke="#333" stroke-width="0.9"/>
<text transform="translate(459.92 364.7) rotate(-90)" font-size="7.5" fill="#111" stroke="#111" stroke-width="0.05">O<tspan font-size="3.8" dy="1.9">3</tspan></text>
<line x1="465.92" y1="346.0" x2="465.92" y2="348.4" stroke="#333" stroke-width="0.9"/>
<text transform="translate(468.62 364.7) rotate(-90)" font-size="7.5" fill="#111" stroke="#111" stroke-width="0.05">PM<tspan font-size="3.8" dy="1.9">10</tspan></text>
<line x1="474.62" y1="346.0" x2="474.62" y2="348.4" stroke="#333" stroke-width="0.9"/>
<text transform="translate(477.32 364.7) rotate(-90)" font-size="7.5" fill="#111" stroke="#111" stroke-width="0.05">PM<tspan font-size="3.8" dy="1.9">2.5</tspan></text>
<line x1="483.32" y1="346.0" x2="483.32" y2="348.4" stroke="#333" stroke-width="0.9"/>
<text transform="translate(486.02 364.7) rotate(-90)" font-size="7.5" fill="#111" stroke="#111" stroke-width="0.05">SO<tspan font-size="3.8" dy="1.9">2</tspan></text>
<line x1="496.37" y1="346.0" x2="496.37" y2="348.4" stroke="#333" stroke-width="0.9"/>
<text transform="translate(499.07 364.7) rotate(-90)" font-size="7.5" fill="#111" stroke="#111" stroke-width="0.05">CO</text>
<line x1="505.07" y1="346.0" x2="505.07" y2="348.4" stroke="#333" stroke-width="0.9"/>
<text transform="translate(507.77 364.7) rotate(-90)" font-size="7.5" fill="#111" stroke="#111" stroke-width="0.05">T</text>
<line x1="513.77" y1="346.0" x2="513.77" y2="348.4" stroke="#333" stroke-width="0.9"/>
<text transform="translate(516.47 364.7) rotate(-90)" font-size="7.5" fill="#111" stroke="#111" stroke-width="0.05">NO<tspan font-size="3.8" dy="1.9">2</tspan></text>
<line x1="522.47" y1="346.0" x2="522.47" y2="348.4" stroke="#333" stroke-width="0.9"/>
<text transform="translate(525.17 364.7) rotate(-90)" font-size="7.5" fill="#111" stroke="#111" stroke-width="0.05">O<tspan font-size="3.8" dy="1.9">3</tspan></text>
<line x1="531.17" y1="346.0" x2="531.17" y2="348.4" stroke="#333" stroke-width="0.9"/>
<text transform="translate(533.87 364.7) rotate(-90)" font-size="7.5" fill="#111" stroke="#111" stroke-width="0.05">PM<tspan font-size="3.8" dy="1.9">10</tspan></text>
<line x1="539.87" y1="346.0" x2="539.87" y2="348.4" stroke="#333" stroke-width="0.9"/>
<text transform="translate(542.57 364.7) rotate(-90)" font-size="7.5" fill="#111" stroke="#111" stroke-width="0.05">PM<tspan font-size="3.8" dy="1.9">2.5</tspan></text>
<line x1="548.57" y1="346.0" x2="548.57" y2="348.4" stroke="#333" stroke-width="0.9"/>
<text transform="translate(551.27 364.7) rotate(-90)" font-size="7.5" fill="#111" stroke="#111" stroke-width="0.05">SO<tspan font-size="3.8" dy="1.9">2</tspan></text>
<line x1="561.62" y1="346.0" x2="561.62" y2="348.4" stroke="#333" stroke-width="0.9"/>
<text transform="translate(564.32 364.7) rotate(-90)" font-size="7.5" fill="#111" stroke="#111" stroke-width="0.05">CO</text>
<line x1="570.32" y1="346.0" x2="570.32" y2="348.4" stroke="#333" stroke-width="0.9"/>
<text transform="translate(573.02 364.7) rotate(-90)" font-size="7.5" fill="#111" stroke="#111" stroke-width="0.05">T</text>
<line x1="579.02" y1="346.0" x2="579.02" y2="348.4" stroke="#333" stroke-width="0.9"/>
<text transform="translate(581.72 364.7) rotate(-90)" font-size="7.5" fill="#111" stroke="#111" stroke-width="0.05">NO<tspan font-size="3.8" dy="1.9">2</tspan></text>
<line x1="587.72" y1="346.0" x2="587.72" y2="348.4" stroke="#333" stroke-width="0.9"/>
<text transform="translate(590.42 364.7) rotate(-90)" font-size="7.5" fill="#111" stroke="#111" stroke-width="0.05">O<tspan font-size="3.8" dy="1.9">3</tspan></text>
<line x1="596.42" y1="346.0" x2="596.42" y2="348.4" stroke="#333" stroke-width="0.9"/>
<text transform="translate(599.12 364.7) rotate(-90)" font-size="7.5" fill="#111" stroke="#111" stroke-width="0.05">PM<tspan font-size="3.8" dy="1.9">10</tspan></text>
<line x1="605.12" y1="346.0" x2="605.12" y2="348.4" stroke="#333" stroke-width="0.9"/>
<text transform="translate(607.82 364.7) rotate(-90)" font-size="7.5" fill="#111" stroke="#111" stroke-width="0.05">PM<tspan font-size="3.8" dy="1.9">2.5</tspan></text>
<line x1="613.82" y1="346.0" x2="613.82" y2="348.4" stroke="#333" stroke-width="0.9"/>
<text transform="translate(616.52 364.7) rotate(-90)" font-size="7.5" fill="#111" stroke="#111" stroke-width="0.05">SO<tspan font-size="3.8" dy="1.9">2</tspan></text>
<line x1="626.87" y1="346.0" x2="626.87" y2="348.4" stroke="#333" stroke-width="0.9"/>
<text transform="translate(629.57 364.7) rotate(-90)" font-size="7.5" fill="#111" stroke="#111" stroke-width="0.05">CO</text>
<line x1="635.57" y1="346.0" x2="635.57" y2="348.4" stroke="#333" stroke-width="0.9"/>
<text transform="translate(638.27 364.7) rotate(-90)" font-size="7.5" fill="#111" stroke="#111" stroke-width="0.05">T</text>
<line x1="644.27" y1="346.0" x2="644.27" y2="348.4" stroke="#333" stroke-width="0.9"/>
<text transform="translate(646.97 364.7) rotate(-90)" font-size="7.5" fill="#111" stroke="#111" stroke-width="0.05">NO<tspan font-size="3.8" dy="1.9">2</tspan></text>
<line x1="652.97" y1="346.0" x2="652.97" y2="348.4" stroke="#333" stroke-width="0.9"/>
<text transform="translate(655.67 364.7) rotate(-90)" font-size="7.5" fill="#111" stroke="#111" stroke-width="0.05">O<tspan font-size="3.8" dy="1.9">3</tspan></text>
<line x1="661.67" y1="346.0" x2="661.67" y2="348.4" stroke="#333" stroke-width="0.9"/>
<text transform="translate(664.37 364.7) rotate(-90)" font-size="7.5" fill="#111" stroke="#111" stroke-width="0.05">PM<tspan font-size="3.8" dy="1.9">10</tspan></text>
<line x1="670.37" y1="346.0" x2="670.37" y2="348.4" stroke="#333" stroke-width="0.9"/>
<text transform="translate(673.07 364.7) rotate(-90)" font-size="7.5" fill="#111" stroke="#111" stroke-width="0.05">PM<tspan font-size="3.8" dy="1.9">2.5</tspan></text>
<line x1="679.07" y1="346.0" x2="679.07" y2="348.4" stroke="#333" stroke-width="0.9"/>
<text transform="translate(681.77 364.7) rotate(-90)" font-size="7.5" fill="#111" stroke="#111" stroke-width="0.05">SO<tspan font-size="3.8" dy="1.9">2</tspan></text>
<text transform="translate(8.4 179.6) rotate(-90)" font-size="10" font-weight="bold" text-anchor="middle" fill="#000" stroke="#fff" stroke-width="0.14">Odd Ratio with 95% Confidence Intervals</text>
<text x="101" y="6.95" font-size="10.05" text-anchor="middle" fill="#000" stroke="#000" stroke-width="0.1">Period 1</text>
<text x="229.3" y="6.95" font-size="10.05" text-anchor="middle" fill="#000" stroke="#000" stroke-width="0.1">Period 2</text>
<text x="355.1" y="6.95" font-size="10.05" text-anchor="middle" fill="#000" stroke="#000" stroke-width="0.1">Period 3</text>
<text x="477.3" y="6.95" font-size="10.05" text-anchor="middle" fill="#000" stroke="#000" stroke-width="0.1">Period 4</text>
<text x="605.9" y="6.95" font-size="10.05" text-anchor="middle" fill="#000" stroke="#000" stroke-width="0.1">Period 5</text>
<text x="65.1" y="18.4" font-size="7.42" text-anchor="middle" fill="#000" stroke="#000" stroke-width="0.1">Primary infertility</text>
<text x="193.0" y="18.4" font-size="7.42" text-anchor="middle" fill="#000" stroke="#000" stroke-width="0.1">Primary infertility</text>
<text x="325.9" y="18.4" font-size="7.42" text-anchor="middle" fill="#000" stroke="#000" stroke-width="0.1">Primary infertility</text>
<text x="453.8" y="18.4" font-size="7.42" text-anchor="middle" fill="#000" stroke="#000" stroke-width="0.1">Primary infertility</text>
<text x="584.3" y="18.4" font-size="7.42" text-anchor="middle" fill="#000" stroke="#000" stroke-width="0.1">Primary infertility</text>
<text x="129" y="18.4" font-size="7.42" text-anchor="middle" fill="#000" stroke="#000" stroke-width="0.1">Secondary infertility</text>
<text x="259" y="18.4" font-size="7.42" text-anchor="middle" fill="#000" stroke="#000" stroke-width="0.1">Secondary infertility</text>
<text x="389.8" y="18.4" font-size="7.42" text-anchor="middle" fill="#000" stroke="#000" stroke-width="0.1">Secondary infertility</text>
<text x="520.1" y="18.4" font-size="7.42" text-anchor="middle" fill="#000" stroke="#000" stroke-width="0.1">Secondary infertility</text>
<text x="650.3" y="18.4" font-size="7.42" text-anchor="middle" fill="#000" stroke="#000" stroke-width="0.1">Secondary infertility</text>
<text x="47" y="207" font-size="12" text-anchor="middle" fill="#333">*</text>
<text x="90" y="142" font-size="12" text-anchor="middle" fill="#333">*</text>
<text x="93.3" y="117" font-size="12" text-anchor="middle" fill="#333">*</text>
<text x="112.4" y="200" font-size="12" text-anchor="middle" fill="#333">*</text>
<text x="112.4" y="206" font-size="12" text-anchor="middle" fill="#333">*</text>
<text x="141.3" y="206" font-size="12" text-anchor="middle" fill="#333">*</text>
<text x="146.4" y="199" font-size="12" text-anchor="middle" fill="#333">*</text>
<text x="149.9" y="204" font-size="12" text-anchor="middle" fill="#333">*</text>
<text x="185.9" y="201" font-size="12" text-anchor="middle" fill="#333">*</text>
<text x="402.4" y="180" font-size="12" text-anchor="middle" fill="#333">*</text>
<text x="402.4" y="186" font-size="12" text-anchor="middle" fill="#333">*</text>
<text x="429.9" y="152" font-size="12" text-anchor="middle" fill="#333">*</text>
<text x="447.1" y="195" font-size="12" text-anchor="middle" fill="#333">*</text>
<text x="467.4" y="190" font-size="12" text-anchor="middle" fill="#333">*</text>
<text x="484.9" y="161" font-size="12" text-anchor="middle" fill="#333">*</text>
<text x="503.9" y="173" font-size="12" text-anchor="middle" fill="#333">*</text>
<text x="560.2" y="205" font-size="12" text-anchor="middle" fill="#333">*</text>
<text x="659.9" y="182" font-size="12" text-anchor="middle" fill="#333">*</text>
<text x="669.0" y="200" font-size="12" text-anchor="middle" fill="#333">*</text>
<text x="629.9" y="47.6" font-size="10.2" fill="#000">Age</text>
<line x1="631.3" y1="58.7" x2="640.1" y2="58.7" stroke="#F8766D" stroke-width="1.05"/>
<circle cx="635.7" cy="58.7" r="1.75" fill="#F8766D"/>
<text x="645.8" y="62.00" font-size="10" fill="#000">&lt;32</text>
<line x1="631.3" y1="70.5" x2="640.1" y2="70.5" stroke="#00BFC4" stroke-width="1.05"/>
<circle cx="635.7" cy="70.5" r="1.75" fill="#00BFC4"/>
<text x="645.8" y="73.80" font-size="10" fill="#000">&gt;32</text>
</svg>
</body></html>
